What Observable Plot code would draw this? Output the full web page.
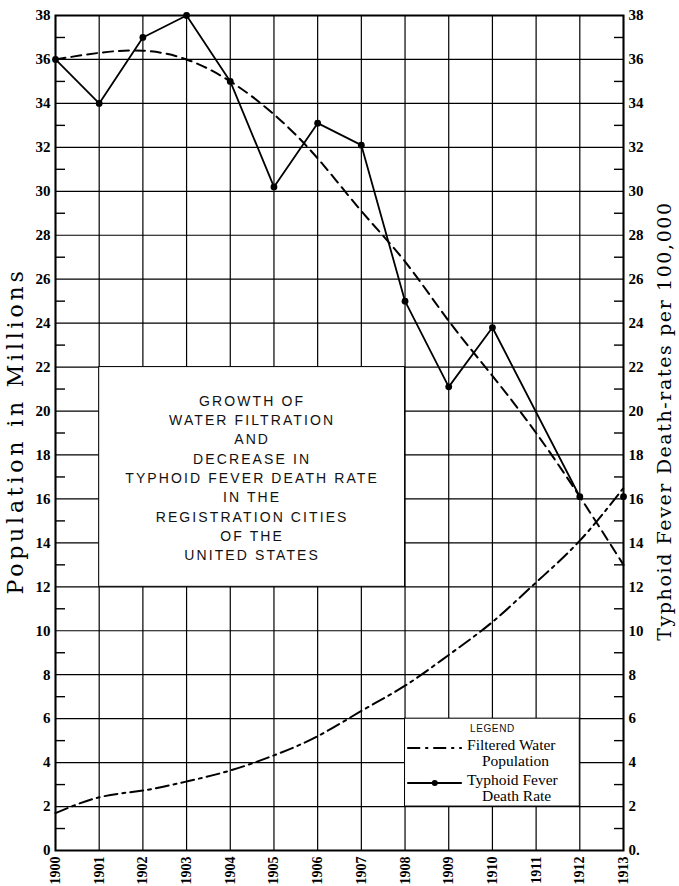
<!DOCTYPE html>
<html><head><meta charset="utf-8">
<script src="https://cdn.jsdelivr.net/npm/d3@7"></script>
<script src="https://cdn.jsdelivr.net/npm/@observablehq/plot@0.6"></script>
<style>body{margin:0;background:#fff}</style>
</head><body><div id="chart"></div>
<script>
// ---- data ----
const years = [1900, 1901, 1902, 1903, 1904, 1905, 1906, 1907, 1908, 1909, 1910, 1911, 1912, 1913];
const filteredPopulation = [1.7, 2.42, 2.73, 3.14, 3.64, 4.33, 5.2, 6.35, 7.5, 8.9, 10.4, 12.2, 14.1, 16.5];
const typhoidRate = [36, 34, 37, 38, 35, 30.2, 33.1, 32.1, 25, 21.1, 23.8, null, 16.1, 16.1];
const typhoidTrend = [36, 36.3, 36.4, 36.0, 35.0, 33.5, 31.5, 29.1, 26.8, 24.1, 21.6, 19.0, 16.1, 13.0];
const yTicks = [0, 2, 4, 6, 8, 10, 12, 14, 16, 18, 20, 22, 24, 26, 28, 30, 32, 34, 36, 38];
const yMinorTicks = [1, 3, 5, 7, 9, 11, 13, 15, 17, 19, 21, 23, 25, 27, 29, 31, 33, 35, 37];
const leftTitle = "Population in Millions";
const rightTitle = "Typhoid Fever Death-rates per 100,000";
const boxTitle = ["GROWTH OF", "WATER FILTRATION", "AND", "DECREASE IN", "TYPHOID FEVER DEATH RATE", "IN THE", "REGISTRATION CITIES", "OF THE", "UNITED STATES"];
const legendHeading = "LEGEND";
const legendLabels = [["Filtered Water", "Population"], ["Typhoid Fever", "Death Rate"]];

const rows = years.map((year, i) => ({year, population: filteredPopulation[i], rate: typhoidRate[i], trend: typhoidTrend[i]}));
const rateDots = rows.filter(d => d.rate != null);
const rateLine = rateDots.filter(d => d.year < 1913); // the 1913 point stands alone

// annotation placement (in chart units)
const titleBox = {x1: 1901, x2: 1908, y1: 12, y2: 22, cx: 1904.5, cy: 17};
const legendBox = {x1: 1908, x2: 1912, y1: 2, y2: 6};
const popSample = {x1: 1908.05, x2: 1909.3, y: 4.67};
const rateSample = {x1: 1908.05, x2: 1909.3, y: 3.07, dot: 1908.68};

const SERIF = "DejaVu Serif";
const TSERIF = "Liberation Serif";
const SANS = "Liberation Sans";

const plot = Plot.plot({
  width: 679, height: 886,
  marginLeft: 55, marginRight: 56, marginTop: 15, marginBottom: 36,
  x: {type: "linear", domain: [1900, 1913]},
  y: {domain: [0, 38]},
  style: {background: "white", color: "black", overflow: "visible"},
  marks: [
    Plot.gridX(years, {stroke: "black", strokeOpacity: 1, strokeWidth: 1.2}),
    Plot.gridY(yTicks, {stroke: "black", strokeOpacity: 1, strokeWidth: 1.2}),
    Plot.axisY(yMinorTicks, {anchor: "left", tickSize: 10, dx: 10, tickFormat: () => "", label: null, strokeWidth: 1.4}),
    Plot.axisY(yMinorTicks, {anchor: "right", tickSize: 10, dx: -10, tickFormat: () => "", label: null, strokeWidth: 1.4}),
    Plot.frame({stroke: "black", strokeWidth: 2}),
    Plot.axisY(yTicks, {anchor: "left", tickSize: 0, tickPadding: 5, fontSize: 15, fontWeight: "bold", fontFamily: TSERIF, label: null}),
    Plot.axisY(yTicks, {anchor: "right", tickSize: 0, tickPadding: 5, fontSize: 15, fontWeight: "bold", fontFamily: TSERIF, label: null, tickFormat: d => d === 0 ? "0." : String(d)}),
    Plot.axisX(years, {anchor: "bottom", tickSize: 0, tickPadding: 6, tickRotate: -90, fontSize: 14, fontWeight: "bold", fontFamily: TSERIF, label: null, tickFormat: d => String(d)}),

    // title box
    Plot.rect([titleBox], {x1: "x1", x2: "x2", y1: "y1", y2: "y2", fill: "white", stroke: "black", strokeWidth: 1}),
    Plot.text([boxTitle.join("\n")], {x: () => titleBox.cx, y: () => titleBox.cy, fontFamily: SANS, fontSize: 14, lineHeight: 1.38, lineAnchor: "middle", fill: "#111"}),

    // legend box
    Plot.rect([legendBox], {x1: "x1", x2: "x2", y1: "y1", y2: "y2", fill: "white", stroke: "black", strokeWidth: 1}),

    // data lines
    Plot.line(rows, {x: "year", y: "trend", curve: "natural", stroke: "black", strokeWidth: 2, strokeDasharray: "10,6"}),
    Plot.line(rows, {x: "year", y: "population", curve: "natural", stroke: "black", strokeWidth: 2, strokeDasharray: "13,5,3,5"}),
    Plot.line(rateLine, {x: "year", y: "rate", stroke: "black", strokeWidth: 1.8}),
    Plot.dot(rateDots, {x: "year", y: "rate", r: 3.4, fill: "black"}),

    // legend content
    Plot.text([legendHeading], {x: () => (legendBox.x1 + legendBox.x2) / 2, y: () => 5.55, fontFamily: SANS, fontSize: 10, fill: "#111"}),
    Plot.link([popSample], {x1: "x1", x2: "x2", y1: "y", y2: "y", stroke: "black", strokeWidth: 2, strokeDasharray: "13,5,3,5"}),
    Plot.link([rateSample], {x1: "x1", x2: "x2", y1: "y", y2: "y", stroke: "black", strokeWidth: 2}),
    Plot.dot([rateSample], {x: "dot", y: "y", r: 3, fill: "black"}),
    Plot.text([legendLabels[0][0], legendLabels[1][0]], {x: () => 1909.42, y: (d, i) => [4.8, 3.2][i], textAnchor: "start", fontFamily: TSERIF, fontSize: 15.5}),
    Plot.text([legendLabels[0][1], legendLabels[1][1]], {x: () => 1909.76, y: (d, i) => [4.07, 2.47][i], textAnchor: "start", fontFamily: TSERIF, fontSize: 15.5}),

    // axis titles
    Plot.text([leftTitle], {frameAnchor: "left", textAnchor: "middle", dx: -40, dy: -2, rotate: -90, fontFamily: SERIF, fontSize: 22}),
    Plot.text([rightTitle], {frameAnchor: "right", textAnchor: "middle", dx: 41, dy: -12, rotate: -90, fontFamily: SERIF, fontSize: 19})
  ]
});

d3.select(plot).selectAll('g[aria-label="text"]').each(function() {
  const g = d3.select(this);
  const ff = g.attr("font-family");
  const fs = g.attr("font-size");
  if (ff === SANS && fs === "14") g.style("letter-spacing", "2.1px");
  if (ff === SANS && fs !== "14") g.style("letter-spacing", "0.6px");
  if (ff === SERIF && fs === "22") g.style("letter-spacing", "3.8px");
  if (ff === SERIF && fs === "19") g.style("letter-spacing", "1.6px");
});
document.getElementById("chart").appendChild(plot);
</script>
</body></html>
